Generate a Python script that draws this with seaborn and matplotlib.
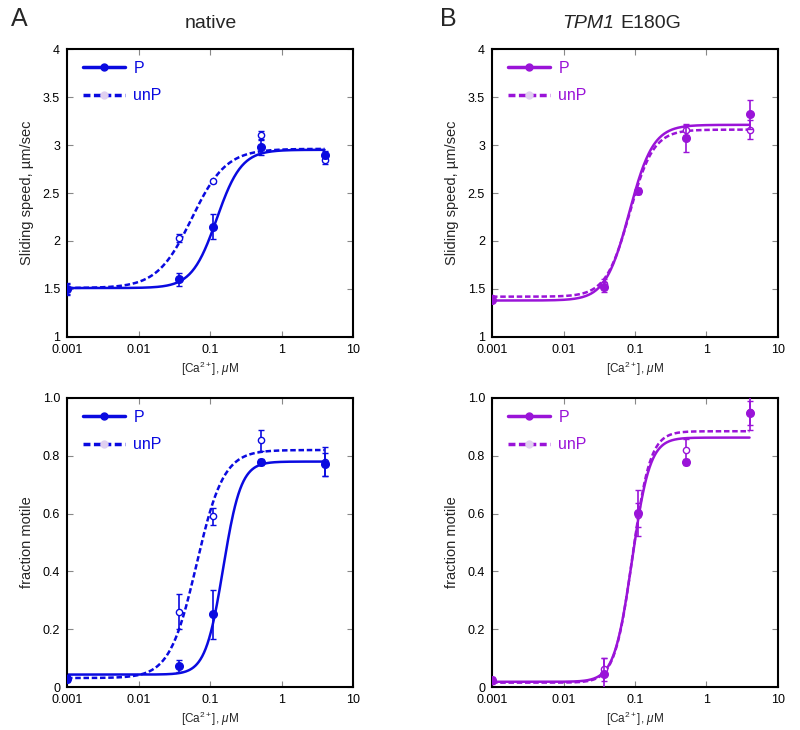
import numpy as np
import pandas as pd
import matplotlib
matplotlib.use("Agg")
import matplotlib.pyplot as plt
from matplotlib.lines import Line2D
import seaborn as sns

# Calcium concentrations (uM)
ca = [0.001, 0.037, 0.11, 0.52, 4.0]

# Sliding speed (um/sec), mean and error
spd_nat_P = [1.50, 1.60, 2.15, 2.98, 2.90]
spd_nat_P_err = [0.06, 0.065, 0.13, 0.08, 0.04]
spd_nat_U = [1.50, 2.03, 2.62, 3.10, 2.84]
spd_nat_U_err = [0.05, 0.04, 0.02, 0.05, 0.04]
spd_mut_P = [1.39, 1.52, 2.52, 3.07, 3.32]
spd_mut_P_err = [0.03, 0.05, 0.03, 0.14, 0.15]
spd_mut_U = [1.41, 1.55, 2.52, 3.16, 3.16]
spd_mut_U_err = [0.02, 0.05, 0.03, 0.06, 0.10]

# Fraction motile, mean and error
frac_nat_P = [0.029, 0.072, 0.251, 0.778, 0.771]
frac_nat_P_err = [0.01, 0.02, 0.085, 0.01, 0.04]
frac_nat_U = [0.03, 0.261, 0.59, 0.853, 0.78]
frac_nat_U_err = [0.01, 0.06, 0.03, 0.038, 0.05]
frac_mut_P = [0.023, 0.044, 0.603, 0.778, 0.948]
frac_mut_P_err = [0.01, 0.055, 0.08, 0.01, 0.04]
frac_mut_U = [0.02, 0.061, 0.595, 0.819, 0.95]
frac_mut_U_err = [0.01, 0.04, 0.04, 0.04, 0.06]

# Hill fits: bottom, top, EC50 (uM), Hill coefficient
fit_spd_nat_P = [1.51, 2.95, 0.124, 2.5]
fit_spd_nat_U = [1.51, 2.96, 0.0555, 1.8]
fit_spd_mut_P = [1.38, 3.21, 0.083, 2.6]
fit_spd_mut_U = [1.42, 3.16, 0.084, 2.6]
fit_frac_nat_P = [0.043, 0.78, 0.153, 3.5]
fit_frac_nat_U = [0.031, 0.82, 0.065, 2.3]
fit_frac_mut_P = [0.018, 0.863, 0.091, 3.5]
fit_frac_mut_U = [0.015, 0.885, 0.092, 3.5]

BLUE = "#0a0ae0"
PURPLE = "#9a14d8"

sns.set_theme(style="ticks")
plt.rcParams["font.family"] = ["Liberation Sans", "DejaVu Sans"]
plt.rcParams["mathtext.fontset"] = "custom"
plt.rcParams["mathtext.rm"] = "Liberation Sans"
plt.rcParams["mathtext.it"] = "Liberation Sans:italic"

fig = plt.figure(figsize=(8, 7.3), dpi=100)
W, H = 800, 730


def add_ax(x0, y0, x1, y1):
    return fig.add_axes([x0 / W, 1 - y1 / H, (x1 - x0) / W, (y1 - y0) / H])


def hill(x, p):
    b, t, ec, n = p
    return b + (t - b) / (1 + (ec / x) ** n)


def panel(ax, color, yP, eP, yU, eU, fP, fU, ylim, yticks, ylabels, ylabel):
    xs = np.logspace(-3, np.log10(4), 300)
    curves = pd.DataFrame({"x": np.concatenate([xs, xs]),
                           "y": np.concatenate([hill(xs, fP), hill(xs, fU)]),
                           "s": ["P"] * len(xs) + ["unP"] * len(xs)})
    sns.lineplot(data=curves, x="x", y="y", style="s", color=color, ax=ax,
                 dashes={"P": "", "unP": (2.2, 1.1)}, linewidth=1.8, legend=False)
    ax.errorbar(ca, yU, yerr=eU, fmt="o", ms=4.5, mfc="white", mec=color,
                mew=1.0, ecolor=color, elinewidth=1.2, capsize=2.5, zorder=3)
    ax.errorbar(ca, yP, yerr=eP, fmt="o", ms=5.5, color=color,
                ecolor=color, elinewidth=1.2, capsize=2.5, zorder=4)
    ax.set_xscale("log")
    ax.set_xlim(0.001, 10)
    ax.set_ylim(*ylim)
    ax.set_xticks([0.001, 0.01, 0.1, 1, 10])
    ax.set_xticklabels(["0.001", "0.01", "0.1", "1", "10"])
    ax.minorticks_off()
    ax.set_yticks(yticks)
    ax.set_yticklabels(ylabels)
    ax.tick_params(direction="in", top=True, right=True, length=4, width=0.8,
                   labelsize=9, pad=5, colors="#000000", color="#888888")
    for s in ax.spines.values():
        s.set_linewidth(1.5)
        s.set_color("black")
    ax.set_xlabel(r"[Ca$^{2+}$], $\mathit{\mu}$M", fontsize=8.5, labelpad=3)
    ax.set_ylabel(ylabel, fontsize=10.5, labelpad=6)
    handles = [Line2D([], [], color=color, lw=2.5, marker="o", ms=5),
               Line2D([], [], color=color, lw=2.5, ls=(0, (2, 1)), marker="o",
                      ms=5, mfc="#e0d0f0", mec="#e0d0f0")]
    ax.legend(handles, ["P", "unP"], loc="upper left", frameon=False,
              bbox_to_anchor=(0.0, 1.015), fontsize=11.5, labelcolor=color,
              handlelength=2.6, borderaxespad=0.6, labelspacing=0.8,
              handletextpad=0.55)


speed_ticks = [1, 1.5, 2, 2.5, 3, 3.5, 4]
speed_labels = ["1", "1.5", "2", "2.5", "3", "3.5", "4"]
frac_ticks = [0, 0.2, 0.4, 0.6, 0.8, 1.0]
frac_labels = ["0", "0.2", "0.4", "0.6", "0.8", "1.0"]

ax1 = add_ax(67, 49, 353, 337)
panel(ax1, BLUE, spd_nat_P, spd_nat_P_err, spd_nat_U, spd_nat_U_err,
      fit_spd_nat_P, fit_spd_nat_U, (1, 4), speed_ticks, speed_labels,
      "Sliding speed, µm/sec")
ax2 = add_ax(492, 49, 778, 337)
panel(ax2, PURPLE, spd_mut_P, spd_mut_P_err, spd_mut_U, spd_mut_U_err,
      fit_spd_mut_P, fit_spd_mut_U, (1, 4), speed_ticks, speed_labels,
      "Sliding speed, µm/sec")
ax3 = add_ax(67, 398, 353, 687)
panel(ax3, BLUE, frac_nat_P, frac_nat_P_err, frac_nat_U, frac_nat_U_err,
      fit_frac_nat_P, fit_frac_nat_U, (0, 1), frac_ticks, frac_labels,
      "fraction motile")
ax4 = add_ax(492, 398, 778, 687)
panel(ax4, PURPLE, frac_mut_P, frac_mut_P_err, frac_mut_U, frac_mut_U_err,
      fit_frac_mut_P, fit_frac_mut_U, (0, 1), frac_ticks, frac_labels,
      "fraction motile")

fig.text(11 / W, 1 - 19 / H, "A", fontsize=18, va="center", ha="left")
fig.text(440 / W, 1 - 19 / H, "B", fontsize=18, va="center", ha="left")
fig.text(211 / W, 1 - 24 / H, "native", fontsize=14, va="center", ha="center")
fig.text(614 / W, 1 - 24 / H, "TPM1", fontsize=14, style="italic",
         va="center", ha="right")
fig.text(620 / W, 1 - 24 / H, "E180G", fontsize=14, va="center", ha="left")

fig.savefig("out.png", dpi=100)
